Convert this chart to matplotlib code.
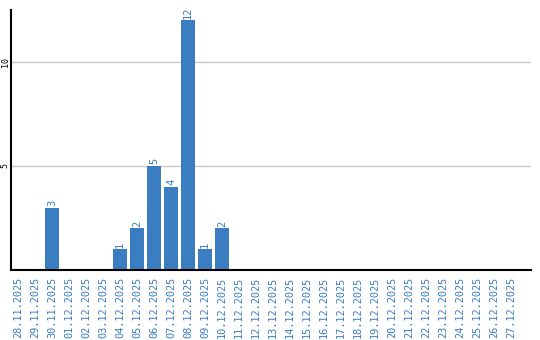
import matplotlib
matplotlib.use("Agg")
import matplotlib.pyplot as plt
import numpy as np

dates = ["28.11.2025", "29.11.2025", "30.11.2025", "01.12.2025", "02.12.2025",
         "03.12.2025", "04.12.2025", "05.12.2025", "06.12.2025", "07.12.2025",
         "08.12.2025", "09.12.2025", "10.12.2025", "11.12.2025", "12.12.2025",
         "13.12.2025", "14.12.2025", "15.12.2025", "16.12.2025", "17.12.2025",
         "18.12.2025", "19.12.2025", "20.12.2025", "21.12.2025", "22.12.2025",
         "23.12.2025", "24.12.2025", "25.12.2025", "26.12.2025", "27.12.2025"]
values = [0, 0, 3, 0, 0, 0, 1, 2, 5, 4, 12, 1, 2, 0, 0,
          0, 0, 0, 0, 0, 0, 0, 0, 0, 0, 0, 0, 0, 0, 0]
y_ticks = [5, 10]

blue = "#3a7dc1"
font = "DejaVu Sans Mono"

fig = plt.figure(figsize=(5.4, 3.4), dpi=100)
ax = fig.add_axes([10.5 / 540, 70 / 340, 520.2 / 540, 260 / 340])

x = np.arange(len(dates))
ax.bar(x, values, width=0.82, color=blue, zorder=3)
for xi, v in zip(x, values):
    if v > 0:
        ax.text(xi, v + 0.08, str(v), rotation=90, ha="center", va="bottom",
                color=blue, fontsize=7.5, family=font, zorder=4)

ax.set_xlim(-0.44, 30.16)
ax.set_ylim(0, 12.5)
ax.set_yticks(y_ticks)
ax.set_yticklabels([str(t) for t in y_ticks], rotation=90, va="center",
                   fontsize=6, family=font)
ax.tick_params(axis="y", length=0, pad=0.5)
ax.set_xticks(x)
ax.set_xticklabels(dates, rotation=90, fontsize=7.4, family=font, color=blue)
ax.tick_params(axis="x", length=0, pad=5)
ax.grid(axis="y", color="#c8c8c8", linewidth=1, zorder=0)
for s in ["top", "right"]:
    ax.spines[s].set_visible(False)
for s in ["left", "bottom"]:
    ax.spines[s].set_linewidth(1.5)
    ax.spines[s].set_color("black")
    ax.spines[s].set_zorder(5)

fig.savefig("out.png", dpi=100)
